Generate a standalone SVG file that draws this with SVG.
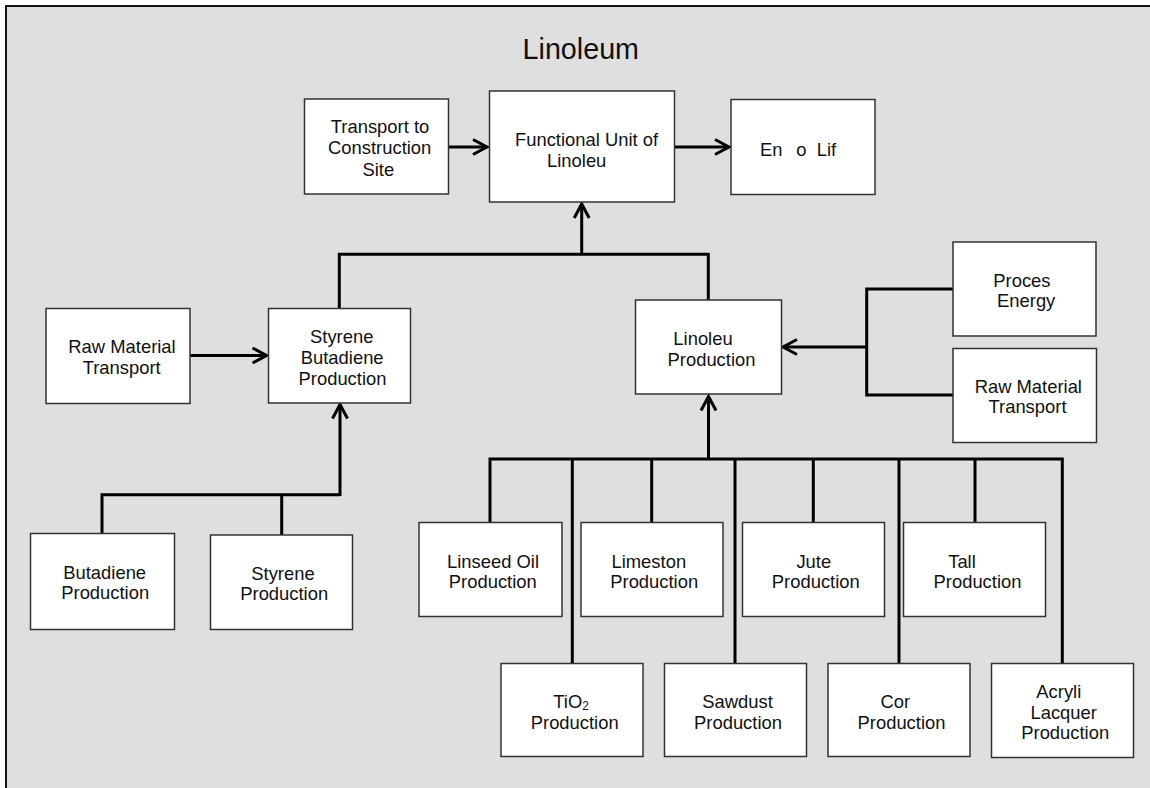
<svg xmlns="http://www.w3.org/2000/svg" width="1150" height="788" viewBox="0 0 1150 788">
<defs>
<style>
.box{fill:#fff;stroke:#333;stroke-width:1.5}
.t{font-family:"Liberation Sans",Arial,sans-serif;font-size:18.4px;fill:#111;text-anchor:middle}
.ts{font-family:"Liberation Sans",Arial,sans-serif;font-size:18.4px;fill:#111}
.c{fill:none;stroke:#000;stroke-width:3}
.a{marker-end:url(#arr)}
</style>
<marker id="arr" markerUnits="userSpaceOnUse" markerWidth="30" markerHeight="30" viewBox="-20 -15 30 30" refX="0" refY="0" orient="auto">
<path d="M-14,-7.5 L0,0 L-14,7.5" fill="none" stroke="#000" stroke-width="3"/>
</marker>
</defs>
<rect x="0" y="0" width="1150" height="788" fill="#fff"/>
<rect x="6" y="6" width="1170" height="800" fill="#dfdfdf" stroke="#111" stroke-width="2"/>
<text x="580.8" y="59" style="font-family:'Liberation Sans',Arial,sans-serif;font-size:28.7px;fill:#111;text-anchor:middle">Linoleum</text>

<g id="connectors">
<path class="c a" d="M449,147 H487"/>
<path class="c a" d="M674.5,147 H729"/>
<path class="c" d="M339.3,308.5 V254.3 H708.3 V300"/>
<path class="c a" d="M581.7,254.3 V204"/>
<path class="c a" d="M190,355.5 H266.5"/>
<path class="c" d="M102,533.5 V494.7 H340"/>
<path class="c" d="M281.7,535 V494.7"/>
<path class="c a" d="M340,496 V404.5"/>
<path class="c" d="M953,289 H866.7 V395 H953"/>
<path class="c a" d="M866.7,347 H783"/>
<path class="c" d="M490,522.5 V459 H1062.3 V663.5"/>
<path class="c" d="M572.3,459 V663.5 M651.7,459 V522.5 M735,459 V663.5 M813.3,459 V522.5 M899,459 V663.5 M975,459 V522.5"/>
<path class="c a" d="M708.5,460 V396.5"/>
</g>

<g id="transport-site">
<rect class="box" x="304.5" y="99" width="144" height="95"/>
<text class="t"><tspan x="380" y="133.3">Transport to</tspan><tspan x="379.7" y="154.3">Construction</tspan><tspan x="378.3" y="175.5">Site</tspan></text>
</g>
<g id="functional-unit">
<rect class="box" x="489.5" y="91" width="185" height="111"/>
<text class="t"><tspan x="586.5" y="145.5">Functional Unit of</tspan><tspan x="576.7" y="166.5">Linoleu</tspan></text>
</g>
<g id="end-of-life">
<rect class="box" x="731" y="99.5" width="144" height="95"/>
<text class="ts" x="760" y="156">En <tspan x="796.3">o </tspan><tspan x="816.8">Lif</tspan></text>
</g>
<g id="styrene-butadiene">
<rect class="box" x="268.5" y="308.5" width="142" height="94.5"/>
<text class="t"><tspan x="341.7" y="342.7">Styrene</tspan><tspan x="342.2" y="364">Butadiene</tspan><tspan x="342.5" y="385">Production</tspan></text>
</g>
<g id="raw-material-left">
<rect class="box" x="46" y="308.5" width="144" height="95"/>
<text class="t"><tspan x="122" y="353.3">Raw Material</tspan><tspan x="121.7" y="374.3">Transport</tspan></text>
</g>
<g id="linoleu-production">
<rect class="box" x="635.5" y="300" width="146" height="94"/>
<text class="t"><tspan x="703" y="345">Linoleu</tspan><tspan x="711.5" y="365.7">Production</tspan></text>
</g>
<g id="process-energy">
<rect class="box" x="953" y="242" width="143" height="94"/>
<text class="t"><tspan x="1021.9" y="286.7">Proces</tspan><tspan x="1026.2" y="307.3">Energy</tspan></text>
</g>
<g id="raw-material-right">
<rect class="box" x="953" y="348.5" width="143.5" height="94"/>
<text class="t"><tspan x="1028.3" y="392.7">Raw Material</tspan><tspan x="1027.5" y="413.3">Transport</tspan></text>
</g>
<g id="butadiene">
<rect class="box" x="30.5" y="533.5" width="144" height="96"/>
<text class="t"><tspan x="104.7" y="579">Butadiene</tspan><tspan x="105.2" y="599.3">Production</tspan></text>
</g>
<g id="styrene">
<rect class="box" x="210.5" y="535" width="142" height="94.5"/>
<text class="t"><tspan x="283" y="580">Styrene</tspan><tspan x="284.2" y="599.7">Production</tspan></text>
</g>
<g id="linseed">
<rect class="box" x="419" y="522.5" width="143" height="94"/>
<text class="t"><tspan x="493" y="568.3">Linseed Oil</tspan><tspan x="492.8" y="588.3">Production</tspan></text>
</g>
<g id="limestone">
<rect class="box" x="581" y="522.5" width="142" height="94"/>
<text class="t"><tspan x="648.8" y="568.3">Limeston</tspan><tspan x="654.2" y="588.3">Production</tspan></text>
</g>
<g id="jute">
<rect class="box" x="742.5" y="522.5" width="142" height="94"/>
<text class="t"><tspan x="813.8" y="568.3">Jute</tspan><tspan x="815.8" y="588.3">Production</tspan></text>
</g>
<g id="tall">
<rect class="box" x="903.5" y="522.5" width="142" height="94"/>
<text class="t"><tspan x="962" y="568.3">Tall</tspan><tspan x="977.5" y="588.3">Production</tspan></text>
</g>
<g id="tio2">
<rect class="box" x="501" y="663.5" width="142" height="93"/>
<text class="ts" x="553.3" y="708.3">TiO<tspan font-size="12" dy="2">2</tspan></text>
<text class="t" x="574.7" y="729">Production</text>
</g>
<g id="sawdust">
<rect class="box" x="664.5" y="663.5" width="142" height="93"/>
<text class="t"><tspan x="737.5" y="708.3">Sawdust</tspan><tspan x="738" y="729">Production</tspan></text>
</g>
<g id="cork">
<rect class="box" x="828" y="663.5" width="142" height="93"/>
<text class="t"><tspan x="895.3" y="708.3">Cor</tspan><tspan x="901.5" y="729">Production</tspan></text>
</g>
<g id="acrylic">
<rect class="box" x="991.5" y="663.5" width="142" height="94"/>
<text class="t"><tspan x="1058.8" y="697.7">Acryli</tspan><tspan x="1063.7" y="719">Lacquer</tspan><tspan x="1065.2" y="739.3">Production</tspan></text>
</g>
</svg>
